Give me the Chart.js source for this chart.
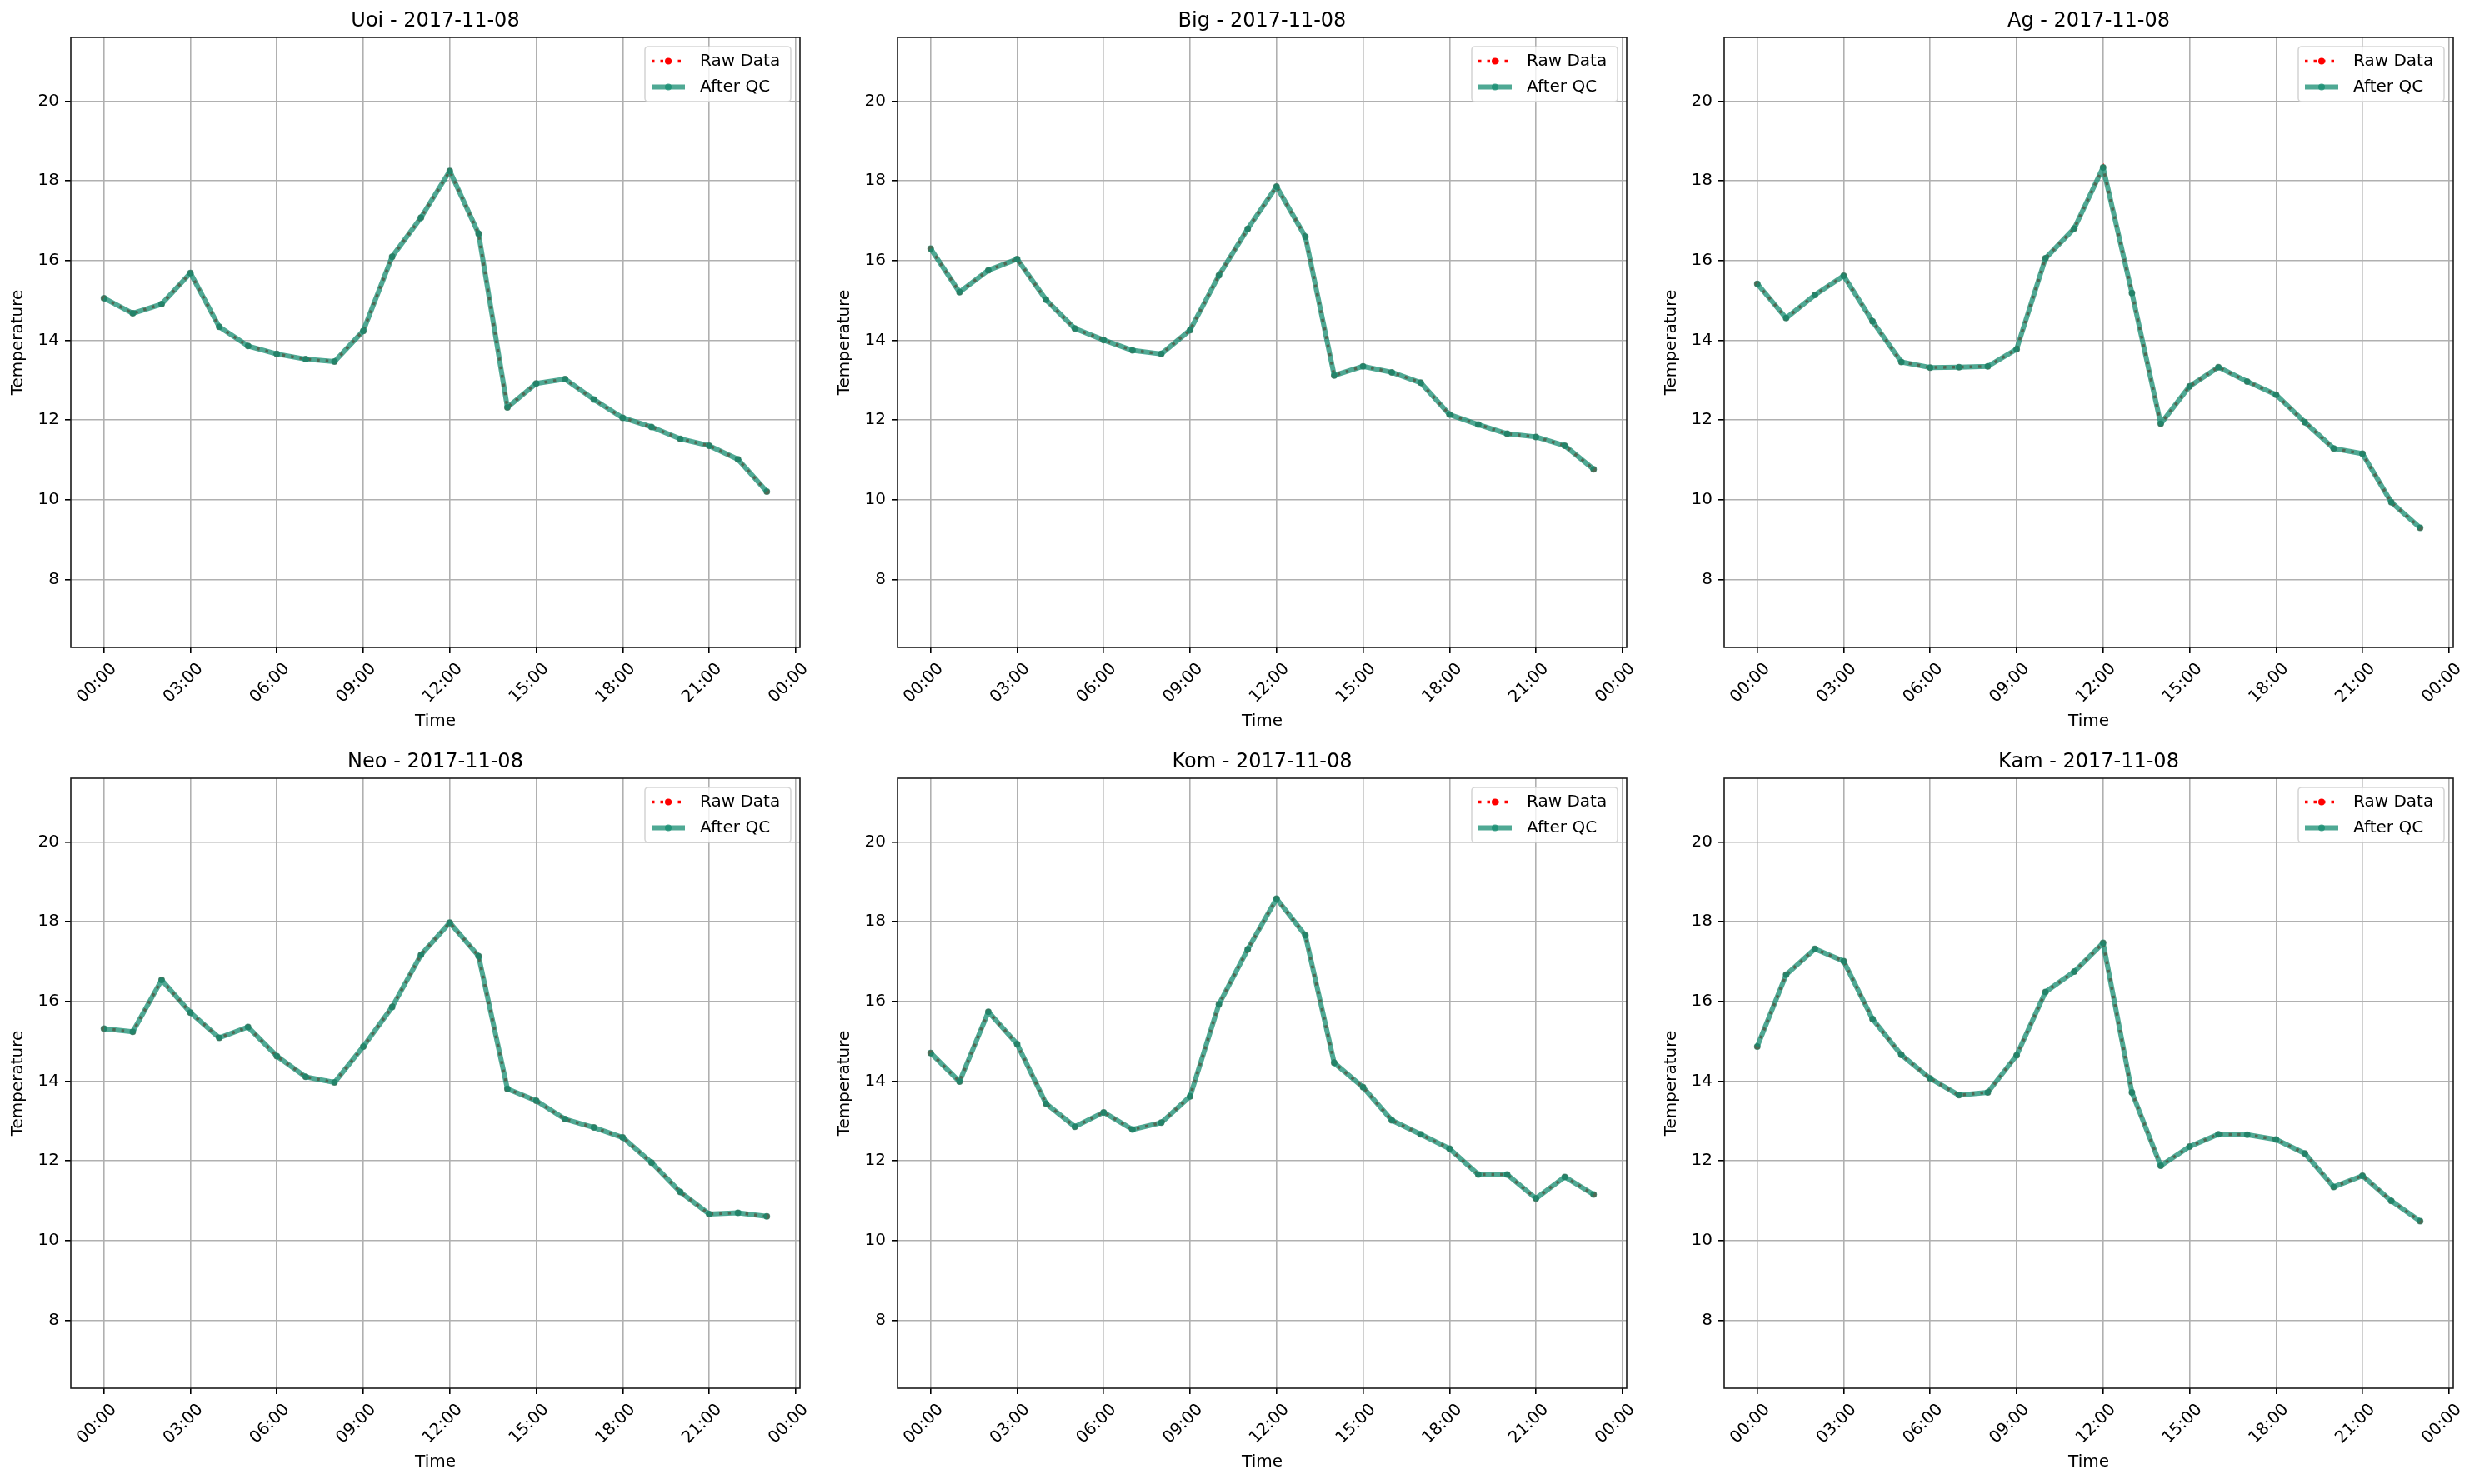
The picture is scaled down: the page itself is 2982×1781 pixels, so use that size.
<!DOCTYPE html>
<html lang="en">
<head>
    <meta charset="UTF-8">
    <title>Temperature QC - 2017-11-08</title>
    <script src="https://cdn.jsdelivr.net/npm/chart.js"></script>
    <style>
        html, body { margin: 0; padding: 0; background: #fff; }
        body { width: 2982px; height: 1781px; position: relative; overflow: hidden; }
        .panel { position: absolute; }
    </style>
</head>
<body>
    <div id="figure"></div>

    <script>
        // Data
        const dateLabel = '2017-11-08';
        const stations = ['Uoi', 'Big', 'Ag', 'Neo', 'Kom', 'Kam'];
        const hours = [0, 1, 2, 3, 4, 5, 6, 7, 8, 9, 10, 11, 12, 13, 14, 15, 16, 17, 18, 19, 20, 21, 22, 23];
        const xTickHours = [0, 3, 6, 9, 12, 15, 18, 21, 24];
        const yTickValues = [8, 10, 12, 14, 16, 18, 20];

        const uoiTemp = [15.06, 14.68, 14.91, 15.69, 14.34, 13.86, 13.66, 13.53, 13.47, 14.24, 16.10, 17.08,
                         18.25, 16.68, 12.32, 12.92, 13.03, 12.52, 12.06, 11.83, 11.53, 11.36, 11.02, 10.21];
        const bigTemp = [16.30, 15.21, 15.76, 16.04, 15.02, 14.30, 14.01, 13.75, 13.66, 14.26, 15.63, 16.80,
                         17.86, 16.60, 13.12, 13.35, 13.20, 12.94, 12.14, 11.89, 11.66, 11.58, 11.36, 10.77];
        const agTemp  = [15.42, 14.56, 15.14, 15.62, 14.48, 13.46, 13.32, 13.33, 13.35, 13.78, 16.06, 16.81,
                         18.34, 15.19, 11.91, 12.85, 13.33, 12.97, 12.64, 11.95, 11.29, 11.16, 9.94, 9.30];
        const neoTemp = [15.32, 15.24, 16.54, 15.72, 15.09, 15.36, 14.63, 14.11, 13.97, 14.87, 15.86, 17.17,
                         17.98, 17.14, 13.81, 13.51, 13.05, 12.84, 12.59, 11.96, 11.22, 10.67, 10.70, 10.61];
        const komTemp = [14.71, 13.99, 15.74, 14.93, 13.44, 12.86, 13.22, 12.79, 12.96, 13.62, 15.93, 17.31,
                         18.58, 17.66, 14.46, 13.85, 13.02, 12.67, 12.31, 11.66, 11.66, 11.06, 11.60, 11.16];
        const kamTemp = [14.87, 16.67, 17.32, 17.01, 15.56, 14.66, 14.07, 13.65, 13.72, 14.65, 16.24, 16.75,
                         17.47, 13.72, 11.88, 12.36, 12.67, 12.66, 12.54, 12.19, 11.35, 11.63, 11.00, 10.49];

        // QC left every value unchanged, so both series use the same readings
        const rawSeries = [uoiTemp, bigTemp, agTemp, neoTemp, komTemp, kamTemp];
        const qcSeries  = [uoiTemp, bigTemp, agTemp, neoTemp, komTemp, kamTemp];

        // Layout (pixels)
        const colLeft = [85, 1077, 2069];
        const rowTop = [45, 934];
        const AX_W = 875, AX_H = 732;
        const Y_W = 85, TITLE_H = 45, X_H = 110, PAD_R = 30;

        const FONT = '"DejaVu Sans", "Liberation Sans", sans-serif';
        const RAW_COLOR = '#ff0000';
        const QC_COLOR = 'rgba(20, 140, 112, 0.75)';

        // spines on all four sides
        const framePlugin = {
            id: 'frame',
            afterDatasetsDraw(chart) {
                const { ctx, chartArea: a } = chart;
                ctx.save();
                ctx.strokeStyle = '#1a1a1a';
                ctx.lineWidth = 1.6;
                ctx.strokeRect(a.left, a.top, a.right - a.left, a.bottom - a.top);
                ctx.restore();
            }
        };

        // legend boxed inside the top right corner
        const legendPlugin = {
            id: 'innerLegend',
            afterDraw(chart) {
                const { ctx, chartArea: a } = chart;
                const w = 175, h = 66;
                const x0 = a.right - 11 - w, y0 = a.top + 11;
                ctx.save();
                ctx.beginPath();
                ctx.roundRect(x0, y0, w, h, 4);
                ctx.fillStyle = 'rgba(255,255,255,0.8)';
                ctx.fill();
                ctx.strokeStyle = 'rgba(204,204,204,0.8)';
                ctx.lineWidth = 1.6;
                ctx.stroke();

                const rows = [y0 + 17.5, y0 + 48.5];
                const sx0 = x0 + 8, sx1 = x0 + 48, mx = x0 + 28;

                // Raw Data sample
                ctx.beginPath();
                ctx.setLineDash([3.5, 7]);
                ctx.strokeStyle = RAW_COLOR;
                ctx.lineWidth = 3.5;
                ctx.moveTo(sx0, rows[0]);
                ctx.lineTo(sx1, rows[0]);
                ctx.stroke();
                ctx.setLineDash([]);
                ctx.beginPath();
                ctx.fillStyle = RAW_COLOR;
                ctx.arc(mx, rows[0], 4, 0, Math.PI * 2);
                ctx.fill();

                // After QC sample
                ctx.beginPath();
                ctx.strokeStyle = QC_COLOR;
                ctx.lineWidth = 6;
                ctx.moveTo(sx0, rows[1]);
                ctx.lineTo(sx1, rows[1]);
                ctx.stroke();
                ctx.beginPath();
                ctx.fillStyle = QC_COLOR;
                ctx.arc(mx, rows[1], 4, 0, Math.PI * 2);
                ctx.fill();

                ctx.fillStyle = '#000';
                ctx.font = '20px ' + FONT;
                ctx.textBaseline = 'middle';
                ctx.textAlign = 'left';
                ctx.fillText('Raw Data', x0 + 66, rows[0]);
                ctx.fillText('After QC', x0 + 66, rows[1]);
                ctx.restore();
            }
        };

        const fig = document.getElementById('figure');
        const hourLabel = v => String(v % 24).padStart(2, '0') + ':00';

        stations.forEach(function (name, i) {
            const col = i % 3, row = Math.floor(i / 3);
            const div = document.createElement('div');
            div.className = 'panel';
            const cw = Y_W + AX_W + PAD_R, chh = TITLE_H + AX_H + X_H;
            div.style.left = (colLeft[col] - Y_W) + 'px';
            div.style.top = (rowTop[row] - TITLE_H) + 'px';
            div.style.width = cw + 'px';
            div.style.height = chh + 'px';
            const canvas = document.createElement('canvas');
            canvas.width = cw;
            canvas.height = chh;
            canvas.style.width = cw + 'px';
            canvas.style.height = chh + 'px';
            div.appendChild(canvas);
            fig.appendChild(div);

            const rawPts = hours.map((h, k) => ({ x: h, y: rawSeries[i][k] }));
            const qcPts = hours.map((h, k) => ({ x: h, y: qcSeries[i][k] }));

            new Chart(canvas.getContext('2d'), {
                type: 'line',
                data: {
                    datasets: [{
                        label: 'Raw Data',
                        data: rawPts,
                        borderColor: RAW_COLOR,
                        backgroundColor: RAW_COLOR,
                        borderWidth: 3.5,
                        borderDash: [3.5, 7],
                        pointRadius: 3.5,
                        pointBackgroundColor: RAW_COLOR,
                        pointBorderWidth: 0,
                        tension: 0,
                        order: 2
                    }, {
                        label: 'After QC',
                        data: qcPts,
                        borderColor: QC_COLOR,
                        backgroundColor: QC_COLOR,
                        borderWidth: 6,
                        borderJoinStyle: 'round',
                        pointRadius: 4,
                        pointBackgroundColor: QC_COLOR,
                        pointBorderWidth: 0,
                        tension: 0,
                        order: 1
                    }]
                },
                options: {
                    responsive: false,
                    animation: false,
                    events: [],
                    layout: { padding: { left: 0, right: PAD_R, top: 0, bottom: 0 } },
                    plugins: {
                        legend: { display: false },
                        tooltip: { enabled: false },
                        title: {
                            display: true,
                            fullSize: false, // centre over the plot area, not the canvas
                            text: name + ' - ' + dateLabel,
                            color: '#000',
                            font: { family: FONT, size: 24, weight: 'normal', lineHeight: 1.2 },
                            padding: { top: 11, bottom: 5.2 }
                        }
                    },
                    scales: {
                        x: {
                            type: 'linear',
                            min: -1.15,
                            max: 24.15,
                            afterBuildTicks: s => { s.ticks = xTickHours.map(v => ({ value: v })); },
                            afterFit: s => { s.height = X_H; },
                            border: { display: false },
                            grid: { color: '#b0b0b0', lineWidth: 1.6, tickLength: 7, tickColor: '#000', tickWidth: 1.6 },
                            ticks: {
                                autoSkip: false,
                                minRotation: 45,
                                maxRotation: 45,
                                labelOffset: 12,
                                padding: 7,
                                color: '#000',
                                font: { family: FONT, size: 20 },
                                callback: v => hourLabel(v)
                            },
                            title: {
                                display: true,
                                text: 'Time',
                                color: '#000',
                                font: { family: FONT, size: 20, lineHeight: 1.2 },
                                padding: { top: 9, bottom: 9 }
                            }
                        },
                        y: {
                            min: 6.3,
                            max: 21.6,
                            afterBuildTicks: s => { s.ticks = yTickValues.map(v => ({ value: v })); },
                            afterFit: s => { s.width = Y_W; },
                            border: { display: false },
                            grid: { color: '#b0b0b0', lineWidth: 1.6, tickLength: 7, tickColor: '#000', tickWidth: 1.6 },
                            ticks: {
                                padding: 7,
                                color: '#000',
                                font: { family: FONT, size: 20 }
                            },
                            title: {
                                display: true,
                                text: 'Temperature',
                                color: '#000',
                                font: { family: FONT, size: 20, lineHeight: 1.2 },
                                padding: { top: 10, bottom: 10 }
                            }
                        }
                    }
                },
                plugins: [framePlugin, legendPlugin]
            });
        });
    </script>
</body>
</html>
